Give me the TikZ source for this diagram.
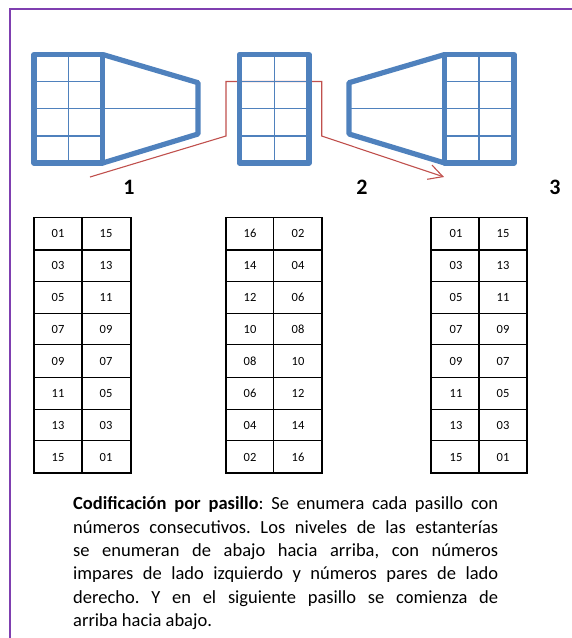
\documentclass[tikz,border=0pt]{standalone}
\usepackage{fontspec}
\setmainfont{Carlito}
\usepackage{tikz}
\usetikzlibrary{arrows.meta, calc, positioning}
\definecolor{shelfblue}{HTML}{4F81BD}
\definecolor{routered}{HTML}{C0504D}
\definecolor{framepurple}{HTML}{7F3FB0}
\tikzset{%
    shelf/.style={%
        draw=shelfblue,
        line width=5.2pt,
        line join=round,
    },
    shelfgrid/.style={%
        draw=shelfblue,
        line width=1.3pt,
    },
    route/.style={%
        draw=routered,
        line width=1.1pt,
        ->,
        >={Straight Barb[length=14pt, width=15pt, line width=1.1pt]},
    },
    levels/.style={%
        draw=black,
        line width=1.3pt,
        line cap=rect,
    },
    cell/.style={%
        font=\fontsize{12.5}{12.5}\selectfont,
        anchor=base,
        inner sep=0pt,
    },
    aisle/.style={%
        font=\fontsize{22}{22}\selectfont\bfseries,
        inner sep=0pt,
    },
}

\begin{document}
\begin{tikzpicture}[x=1pt, y=-1pt]
	\useasboundingbox (0, 0) rectangle (572, 638);
	\draw[framepurple, line width=1.6pt] (10, 638) -- (10, 9) -- (572, 9);

	\coordinate (route_start) at (90, 177);
	\coordinate (route_end) at (444, 177);
	\draw[route] (route_start) -- (226, 136) -- (226, 81.5) -- (321.7, 81.5) -- (321.7, 136) -- (route_end);

	% shelves
	\foreach \name/\xa/\xb/\xc in {a/34/68.3/102.7, b/239.3/274.7/309, c/444.7/479/514} {
		\draw[shelfgrid] (\xb, 54.5) -- (\xb, 163);
		\foreach \y in {81.5, 108.7, 136}
			\draw[shelfgrid] (\xa, \y) -- (\xc, \y);
		\draw[shelf] (\xa, 54.5) rectangle (\xc, 163);
	}
	\draw[shelfgrid] (102.7, 108.7) -- (198, 108.7);
	\draw[shelfgrid] (349, 108.7) -- (444.7, 108.7);
	\draw[shelf] (102.7, 54.5) -- (198, 82.7) -- (198, 134) -- (102.7, 163);
	\draw[shelf] (444.7, 54.5) -- (349, 82.7) -- (349, 134) -- (444.7, 163);

	\node [aisle] (aisle1) at (129, 187) {1};
	\node [aisle] (aisle2) at (362, 187) {2};
	\node [aisle] (aisle3) at (555, 187) {3};

	% level tables
	\foreach \xa/\xb/\xc in {34/82/131, 226/273.5/322, 431/479/527} {
		\draw[levels] (\xb, 217.3) -- (\xb, 473);
		\draw[levels] (\xa, 217.3) -- (\xa, 473);
		\draw[levels] (\xc, 217.3) -- (\xc, 473);
		\foreach \y in {217.3, 250, 281.3, 313.7, 344.7, 377.3, 409.3, 440.7, 473}
			\draw[levels] (\xa, \y) -- (\xc, \y);
	}
	\foreach \y/\l/\r [count=\i] in {237/01/15, 269/03/13, 301/05/11, 333/07/09, 365/09/07, 397/11/05, 429/13/03, 461/15/01} {
		\node [cell] (one_l\i) at (58, \y) {\l};
		\node [cell] (one_r\i) at (106, \y) {\r};
		\node [cell] (three_l\i) at (456, \y) {\l};
		\node [cell] (three_r\i) at (503, \y) {\r};
	}
	\foreach \y/\l/\r [count=\i] in {237/16/02, 269/14/04, 301/12/06, 333/10/08, 365/08/10, 397/06/12, 429/04/14, 461/02/16} {
		\node [cell] (two_l\i) at (250, \y) {\l};
		\node [cell] (two_r\i) at (298, \y) {\r};
	}

	\node [anchor=north west, text width=425pt, align=justify, inner sep=0pt,
		font=\fontsize{18.5}{23.4}\selectfont\frenchspacing] (note) at (73, 496.5) {\textbf{Codificación por pasillo}: Se enumera cada pasillo con\linebreak
		números consecutivos. Los niveles de las estanterías\linebreak
		se enumeran de abajo hacia arriba, con números\linebreak
		impares de lado izquierdo y números pares de lado\linebreak
		derecho. Y en el siguiente pasillo se comienza de\linebreak
		arriba hacia abajo.};
\end{tikzpicture}
\end{document}
